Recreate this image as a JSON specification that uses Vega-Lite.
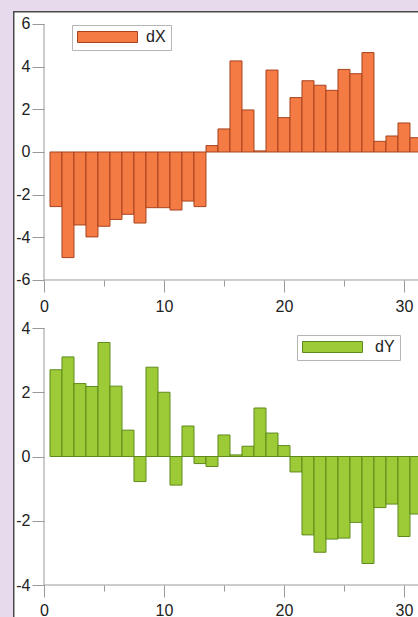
{
  "$schema": "https://vega.github.io/schema/vega-lite/v6.json",
  "background": "#E7DAEC",
  "padding": {"left": 12, "top": 10, "right": 0, "bottom": 0},
  "spacing": 0,
  "bounds": "flush",
  "config": {
    "view": {"stroke": null, "fill": "white"},
    "axis": {"domain": false, "grid": false, "tickColor": "#9a9a9a", "labelFont": "Liberation Sans", "labelFontSize": 16, "labelColor": "#222222", "title": null, "labelFlush": false, "labelOverlap": false}
  },
  "datasets": {
    "dx": [
      {"t": 1, "v": -2.56}, {"t": 2, "v": -4.95}, {"t": 3, "v": -3.42}, {"t": 4, "v": -3.98},
      {"t": 5, "v": -3.48}, {"t": 6, "v": -3.16}, {"t": 7, "v": -2.92}, {"t": 8, "v": -3.33},
      {"t": 9, "v": -2.61}, {"t": 10, "v": -2.61}, {"t": 11, "v": -2.72}, {"t": 12, "v": -2.3},
      {"t": 13, "v": -2.56}, {"t": 14, "v": 0.3}, {"t": 15, "v": 1.08}, {"t": 16, "v": 4.27},
      {"t": 17, "v": 1.97}, {"t": 18, "v": 0.05}, {"t": 19, "v": 3.84}, {"t": 20, "v": 1.61},
      {"t": 21, "v": 2.55}, {"t": 22, "v": 3.34}, {"t": 23, "v": 3.13}, {"t": 24, "v": 2.89},
      {"t": 25, "v": 3.87}, {"t": 26, "v": 3.67}, {"t": 27, "v": 4.66}, {"t": 28, "v": 0.5},
      {"t": 29, "v": 0.75}, {"t": 30, "v": 1.36}, {"t": 31, "v": 0.67}
    ],
    "dy": [
      {"t": 1, "v": 2.7}, {"t": 2, "v": 3.1}, {"t": 3, "v": 2.27}, {"t": 4, "v": 2.18},
      {"t": 5, "v": 3.55}, {"t": 6, "v": 2.19}, {"t": 7, "v": 0.82}, {"t": 8, "v": -0.78},
      {"t": 9, "v": 2.78}, {"t": 10, "v": 2.0}, {"t": 11, "v": -0.89}, {"t": 12, "v": 0.95},
      {"t": 13, "v": -0.22}, {"t": 14, "v": -0.31}, {"t": 15, "v": 0.67}, {"t": 16, "v": 0.05},
      {"t": 17, "v": 0.32}, {"t": 18, "v": 1.51}, {"t": 19, "v": 0.73}, {"t": 20, "v": 0.34},
      {"t": 21, "v": -0.48}, {"t": 22, "v": -2.44}, {"t": 23, "v": -2.98}, {"t": 24, "v": -2.57},
      {"t": 25, "v": -2.54}, {"t": 26, "v": -2.05}, {"t": 27, "v": -3.33}, {"t": 28, "v": -1.59},
      {"t": 29, "v": -1.48}, {"t": 30, "v": -2.49}, {"t": 31, "v": -1.79}
    ]
  },
  "vconcat": [
    {
      "width": 406,
      "height": 303,
      "layer": [
        {
          "data": {"name": "dx"},
          "mark": {"type": "bar", "width": 12, "clip": true, "stroke": "#A8431F", "strokeWidth": 1},
          "encoding": {
            "x": {"field": "t", "type": "quantitative",
              "scale": {"domain": [-2.583, 31.25], "nice": false, "zero": false, "padding": 0},
              "axis": {"orient": "bottom", "offset": -34, "values": [0, 5, 10, 15, 20, 25, 30],
                "tickSize": {"condition": {"test": "datum.value % 10 != 0", "value": 6}, "value": 12},
                "labelExpr": "datum.value % 10 == 0 ? '' + datum.value : ''", "labelPadding": 6}},
            "y": {"field": "v", "type": "quantitative",
              "scale": {"domain": [-7.594, 6.609], "nice": false, "zero": false},
              "axis": {"orient": "left", "offset": -31, "values": [-6, -5, -4, -3, -2, -1, 0, 1, 2, 3, 4, 5, 6],
                "tickSize": {"condition": {"test": "datum.value % 2 != 0", "value": 6}, "value": 12},
                "labelExpr": "datum.value % 2 == 0 ? '' + datum.value : ''", "labelPadding": 2}},
            "y2": {"datum": 0},
            "color": {"datum": "dX", "type": "nominal",
              "scale": {"domain": ["dX"], "range": ["#F47B43"]},
              "legend": {"orient": "none", "legendX": 59, "legendY": 14, "title": null, "padding": 5,
                "strokeColor": "#b5b5b5", "fillColor": "white",
                "symbolType": "M-1,-0.183H1V0.183H-1Z", "symbolSize": 3600,
                "symbolStrokeColor": "#A8431F", "symbolStrokeWidth": 1, "symbolOpacity": 1,
                "clipHeight": 14, "labelOffset": 8, "labelFontSize": 16, "labelFont": "Liberation Sans",
                "labelColor": "#222222", "labelExpr": "datum.label + '\u00a0\u00a0\u00a0'"}}
          }
        },
        {
          "data": {"values": [{}]},
          "mark": {"type": "rule", "color": "#9a9a9a", "strokeWidth": 1},
          "encoding": {"x": {"datum": 0, "type": "quantitative"}, "y": {"datum": -6, "type": "quantitative"}, "y2": {"datum": 6}}
        },
        {
          "data": {"values": [{}]},
          "mark": {"type": "rule", "color": "#9a9a9a", "strokeWidth": 1},
          "encoding": {"y": {"datum": -6, "type": "quantitative"}, "x": {"datum": 0, "type": "quantitative"}, "x2": {"datum": 31.25}}
        },
        {
          "data": {"values": [{}]},
          "mark": {"type": "rule", "color": "#4a4a4a", "strokeWidth": 1.5},
          "encoding": {"x": {"datum": -2.52, "type": "quantitative"}}
        },
        {
          "data": {"values": [{}]},
          "mark": {"type": "rule", "color": "#4a4a4a", "strokeWidth": 1.5},
          "encoding": {"y": {"datum": 6.57, "type": "quantitative"}}
        }
      ]
    },
    {
      "width": 406,
      "height": 304,
      "layer": [
        {
          "data": {"name": "dy"},
          "mark": {"type": "bar", "width": 12, "clip": true, "stroke": "#5E8A1C", "strokeWidth": 1},
          "encoding": {
            "x": {"field": "t", "type": "quantitative",
              "scale": {"domain": [-2.583, 31.25], "nice": false, "zero": false, "padding": 0},
              "axis": {"orient": "bottom", "offset": -33, "values": [0, 5, 10, 15, 20, 25, 30],
                "tickSize": {"condition": {"test": "datum.value % 10 != 0", "value": 6}, "value": 12},
                "labelExpr": "datum.value % 10 == 0 ? '' + datum.value : ''", "labelPadding": 5}},
            "y": {"field": "v", "type": "quantitative",
              "scale": {"domain": [-5.027, 4.436], "nice": false, "zero": false},
              "axis": {"orient": "left", "offset": -31, "values": [-4, -3, -2, -1, 0, 1, 2, 3, 4],
                "tickSize": {"condition": {"test": "datum.value % 2 != 0", "value": 6}, "value": 12},
                "labelExpr": "datum.value % 2 == 0 ? '' + datum.value : ''", "labelPadding": 2}},
            "y2": {"datum": 0},
            "color": {"datum": "dY", "type": "nominal",
              "scale": {"domain": ["dY"], "range": ["#9DCB38"]},
              "legend": {"orient": "none", "legendX": 284, "legendY": 21, "title": null, "padding": 5,
                "strokeColor": "#b5b5b5", "fillColor": "white",
                "symbolType": "M-1,-0.183H1V0.183H-1Z", "symbolSize": 3600,
                "symbolStrokeColor": "#5E8A1C", "symbolStrokeWidth": 1, "symbolOpacity": 1,
                "clipHeight": 14, "labelOffset": 12, "labelFontSize": 16, "labelFont": "Liberation Sans",
                "labelColor": "#222222", "labelExpr": "datum.label + '\u00a0\u00a0'"}}
          }
        },
        {
          "data": {"values": [{}]},
          "mark": {"type": "rule", "color": "#9a9a9a", "strokeWidth": 1},
          "encoding": {"x": {"datum": 0, "type": "quantitative"}, "y": {"datum": -4, "type": "quantitative"}, "y2": {"datum": 4}}
        },
        {
          "data": {"values": [{}]},
          "mark": {"type": "rule", "color": "#9a9a9a", "strokeWidth": 1},
          "encoding": {"y": {"datum": -4, "type": "quantitative"}, "x": {"datum": 0, "type": "quantitative"}, "x2": {"datum": 31.25}}
        },
        {
          "data": {"values": [{}]},
          "mark": {"type": "rule", "color": "#4a4a4a", "strokeWidth": 1.5},
          "encoding": {"x": {"datum": -2.52, "type": "quantitative"}}
        }
      ]
    }
  ],
  "resolve": {"scale": {"color": "independent", "x": "independent", "y": "independent"}, "legend": {"color": "independent"}}
}
